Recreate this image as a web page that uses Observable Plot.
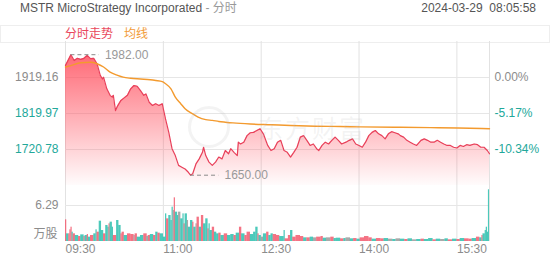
<!DOCTYPE html>
<html><head><meta charset="utf-8">
<script src="https://cdn.jsdelivr.net/npm/d3@7"></script>
<script src="https://cdn.jsdelivr.net/npm/@observablehq/plot@0.6"></script>
<style>
body{margin:0;background:#fff;}
#wrap{position:relative;width:552px;height:265px;overflow:hidden;font-family:"Liberation Sans",Arial,"Noto Sans CJK SC",sans-serif;font-size:12px;}
.abs{position:absolute;white-space:nowrap;line-height:14px;}
</style></head><body>
<div id="wrap">
  <div class="abs" style="left:20px;top:1px;color:#555">MSTR MicroStrategy Incorporated <span style="color:#999">- 分时</span></div>
  <div class="abs" style="right:16px;top:1px;color:#555">2024-03-29&nbsp;&nbsp;08:05:58</div>
  <div class="abs" style="left:0;top:25px;width:548px;height:16px;border:1px solid #eee;"></div>
  <div class="abs" style="left:65px;top:27px;color:#e9475c">分时走势</div>
  <div class="abs" style="left:124px;top:27px;color:#f29b38">均线</div>
  <div id="price" class="abs" style="left:0;top:0;line-height:0"></div>
  <div id="vol" class="abs" style="left:0;top:185px;line-height:0"></div>
  <div class="abs" style="left:188px;top:106px;width:36px;height:36px;border:3px solid rgba(180,180,180,0.16);border-radius:50%"></div>
  <div class="abs" style="left:258px;top:113px;font-size:25px;line-height:28px;letter-spacing:2px;color:rgba(180,180,180,0.16);font-family:'Noto Sans CJK SC'">东方财富</div>
</div>
<script>
// ---- data ----
const prevClose = 1919.16;
const sessionEnd = 390; // minutes from 09:30 to 16:00
const priceMinutes = [0,5,8,11,14,17,20,23,26,29,32,34,35,38,41,43,44,46,48,51,54,57,60,63,66,69,72,74,77,80,83,86,89,90,92,95,98,101,104,107,110,113,115,117,120,123,126,127,129,132,135,138,141,144,147,150,152,155,158,159,161,164,167,170,173,176,179,182,186,189,192,195,198,201,204,207,210,213,216,219,222,225,228,231,233,236,239,242,245,248,251,254,258,261,264,267,270,273,276,279,282,285,288,291,294,297,300,303,306,308,311,314,317,320,323,327,330,333,336,339,342,345,348,351,354,357,360,363,366,369,372,376,379,382,385,388,390];
const prices = [1952,1982,1966,1972,1969,1972,1980,1971,1972,1957,1925,1915,1920,1888,1870,1865,1870,1828,1841,1856,1863,1870,1888,1897,1895,1883,1870,1874,1851,1842,1847,1842,1847,1833,1805,1768,1723,1704,1677,1672,1667,1658,1650,1654,1681,1695,1713,1727,1704,1686,1677,1686,1700,1695,1718,1709,1723,1713,1704,1741,1736,1741,1759,1767,1768,1773,1778,1764,1732,1718,1723,1741,1746,1718,1713,1700,1713,1727,1755,1759,1746,1732,1736,1723,1718,1732,1741,1736,1746,1755,1746,1736,1741,1746,1750,1736,1732,1727,1741,1759,1768,1773,1764,1759,1750,1764,1770,1767,1764,1759,1755,1746,1741,1736,1732,1746,1750,1746,1741,1741,1746,1741,1736,1732,1732,1727,1725,1732,1729,1734,1732,1736,1734,1727,1727,1718,1709];
const avgMinutes = [0,5,14,23,29,35,41,48,53,60,69,78,83,89,92,97,101,106,110,117,122,129,135,141,147,154,170,189,207,230,253,271,308,336,361,390];
const avgPrices = [1948,1952,1960,1961,1957,1948,1934,1925,1920,1917,1915,1913,1911,1908,1902,1888,1865,1847,1833,1819,1810,1803,1801,1798,1796,1794,1791,1789,1787,1785,1784,1783,1782,1781,1780,1778];
const volMinutes = [0,1,3,4,5,6,7,9,12,14,17,18,20,21,23,26,28,29,31,33,35,37,39,40,41,43,44,47,49,51,52,54,57,60,63,64,66,69,72,75,76,78,81,83,85,87,90,92,93,95,97,98,99,100,101,103,104,106,108,109,110,112,113,115,117,118,120,121,123,125,127,129,131,132,133,135,137,139,141,143,146,149,152,155,157,160,162,165,167,170,173,175,177,178,180,182,185,187,189,191,194,197,201,202,205,207,209,212,216,219,222,225,228,231,235,237,240,244,247,249,253,256,258,262,265,268,271,275,279,282,286,290,293,297,301,304,308,312,315,319,323,327,330,334,338,341,345,349,352,356,360,363,367,371,374,378,381,383,384,386,387,388,389];
const volumes = [3.79,1.34,1.34,2.04,2.50,1.63,1.34,1.05,0.87,1.16,0.87,1.05,1.22,0.76,1.05,1.34,2.04,1.63,3.55,1.92,1.34,2.80,2.50,3.09,3.38,2.50,1.05,3.67,2.80,1.34,1.63,1.05,1.34,1.22,1.05,1.34,0.76,1.05,1.34,0.87,1.05,1.22,1.05,1.63,1.46,1.34,0.76,4.83,3.96,4.54,3.67,6.00,5.42,7.63,5.13,4.54,5.13,3.96,4.83,3.09,4.83,3.67,2.50,3.67,3.38,2.50,3.09,4.25,2.50,4.54,3.09,3.96,2.21,3.09,1.92,2.50,1.63,1.34,1.46,1.05,1.34,1.05,1.22,1.05,1.46,2.50,1.34,1.05,1.63,1.22,1.63,2.50,1.34,1.05,0.76,1.34,1.63,1.05,1.34,1.22,1.05,0.87,1.92,0.47,1.05,1.92,0.76,1.05,0.87,0.64,0.64,0.76,0.64,0.76,0.87,0.58,0.64,0.76,0.52,0.58,0.47,0.52,0.64,0.47,0.52,0.41,0.64,0.87,0.64,0.41,0.52,0.47,0.52,0.41,0.35,0.47,0.41,0.35,0.47,0.29,0.35,0.41,0.35,0.52,0.29,0.41,0.35,0.47,0.29,0.41,0.35,0.52,0.47,0.41,0.52,0.76,0.64,1.05,1.34,1.92,2.50,1.63,9.03];
const volDirs = ("rgrrrgrgrg"+"rgrgrggrgg"+"rggrggrggr"+"rgrrnrggrg"+"rgrgrgggrg"+"ggnrggnggr"+"gnggrgnrgr"+"ggrggrggrg"+"rggrgrgrrg"+"ggrgngrggr"+"rggrrgrrrg"+"rgnrrgnrgg"+"rgngrgrrrg"+"rrgngngrgn"+"grggrgngrg"+"rgrrgrgrgg"+"ggg").split("");
const yTicks = [1919.16, 1819.97, 1720.78];
const pctLabels = ["0.00%", "-5.17%", "-10.34%"];
const xTickMinutes = [0, 90, 180, 270, 360];
const xLabels = ["09:30", "11:00", "12:30", "14:00", "15:30"];
const volTicks = [6.29];
const volUnit = "万股";

// ---- build ----
const gray = "#8c8c8c", teal = "#22a89a";
const dirColor = {r: "#f25a6e", g: "#2dbfae", n: "#9a9a9a"};
const priceData = priceMinutes.map((m, i) => ({m, p: prices[i]}));
const avgData = avgMinutes.map((m, i) => ({m, p: avgPrices[i]}));
const volData = volMinutes.map((m, i) => ({m, m2: i < volMinutes.length - 1 ? volMinutes[i + 1] + 0.15 : sessionEnd, v: volumes[i], d: volDirs[i]}));
const step = prevClose - yTicks[1];
const yDomain = [prevClose - 3 * step, prevClose + step];
const xGrid = [...xTickMinutes, sessionEnd];
const hi = d3.greatest(priceData, d => d.p);
const lo = d3.least(priceData, d => d.p);
const font = '"Liberation Sans", Arial, "Noto Sans CJK SC", sans-serif';
const style = {fontFamily: font, fontSize: "12px", background: "transparent", overflow: "visible"};
const labelFill = (d, i) => i === 0 ? gray : teal;

const priceSvg = Plot.plot({
  width: 552, height: 185, marginTop: 41, marginBottom: 0, marginLeft: 65, marginRight: 63,
  style,
  x: {domain: [0, sessionEnd], axis: null},
  y: {domain: yDomain, axis: null},
  color: {type: "identity"},
  marks: [
    Plot.ruleX(xGrid, {stroke: "#e2e2e2"}),
    Plot.ruleY(yTicks, {stroke: "#e6e6e6"}),
    Plot.areaY(priceData, {x: "m", y1: yDomain[0], y2: "p", fill: "url(#priceGrad)"}),
    Plot.lineY(priceData, {x: "m", y: "p", stroke: "#e8405a", strokeWidth: 1.2}),
    Plot.lineY(avgData, {x: "m", y: "p", stroke: "#f39a2e", strokeWidth: 1.4, curve: "monotone-x"}),
    Plot.ruleY([hi, lo], {y: "p", x1: "m", x2: d => d.m + 26, stroke: "#8a8a8a", strokeDasharray: "4,3"}),
    Plot.text([hi, lo], {x: "m", y: "p", text: d => d.p.toFixed(2), dx: 34, textAnchor: "start", fill: "#999", fontSize: 12}),
    Plot.text(yTicks, {y: d => d, text: d => d.toFixed(2), frameAnchor: "left", dx: -7, textAnchor: "end", fill: labelFill, fontSize: 12}),
    Plot.text(yTicks, {y: d => d, text: (d, i) => pctLabels[i], frameAnchor: "right", dx: 5, textAnchor: "start", fill: labelFill, fontSize: 12})
  ]
});
const defs = d3.select(priceSvg).insert("defs", ":first-child");
const lg = defs.append("linearGradient").attr("id", "priceGrad").attr("x1", 0).attr("y1", 0).attr("x2", 0).attr("y2", 1);
lg.append("stop").attr("offset", "0%").attr("stop-color", "#ff4f5e").attr("stop-opacity", 0.85);
lg.append("stop").attr("offset", "100%").attr("stop-color", "#ff4f5e").attr("stop-opacity", 0.02);
document.getElementById("price").appendChild(priceSvg);

const volSvg = Plot.plot({
  width: 552, height: 80, marginTop: 0, marginBottom: 24, marginLeft: 65, marginRight: 63,
  style,
  x: {domain: [0, sessionEnd], axis: null},
  y: {domain: [0, volTicks[0] * 56 / 36], axis: null},
  color: {type: "identity"},
  marks: [
    Plot.ruleX(xGrid, {stroke: "#e2e2e2"}),
    Plot.ruleY(volTicks, {stroke: "#e6e6e6"}),
    Plot.rectY(volData, {x1: "m", x2: "m2", y1: 0, y2: "v", fill: d => dirColor[d.d], fillOpacity: 0.85, inset: 0}),
    Plot.text(volTicks, {y: d => d, text: d => d.toFixed(2), frameAnchor: "left", dx: -7, textAnchor: "end", fill: gray, fontSize: 12}),
    Plot.text([volUnit], {text: d => d, frameAnchor: "bottom-left", dx: -8, dy: -4, textAnchor: "end", fill: gray, fontSize: 12}),
    Plot.text(xTickMinutes, {x: d => d, text: (d, i) => xLabels[i], frameAnchor: "bottom", dy: 11, textAnchor: "start", fill: gray, fontSize: 12})
  ]
});
document.getElementById("vol").appendChild(volSvg);
</script>
</body></html>
